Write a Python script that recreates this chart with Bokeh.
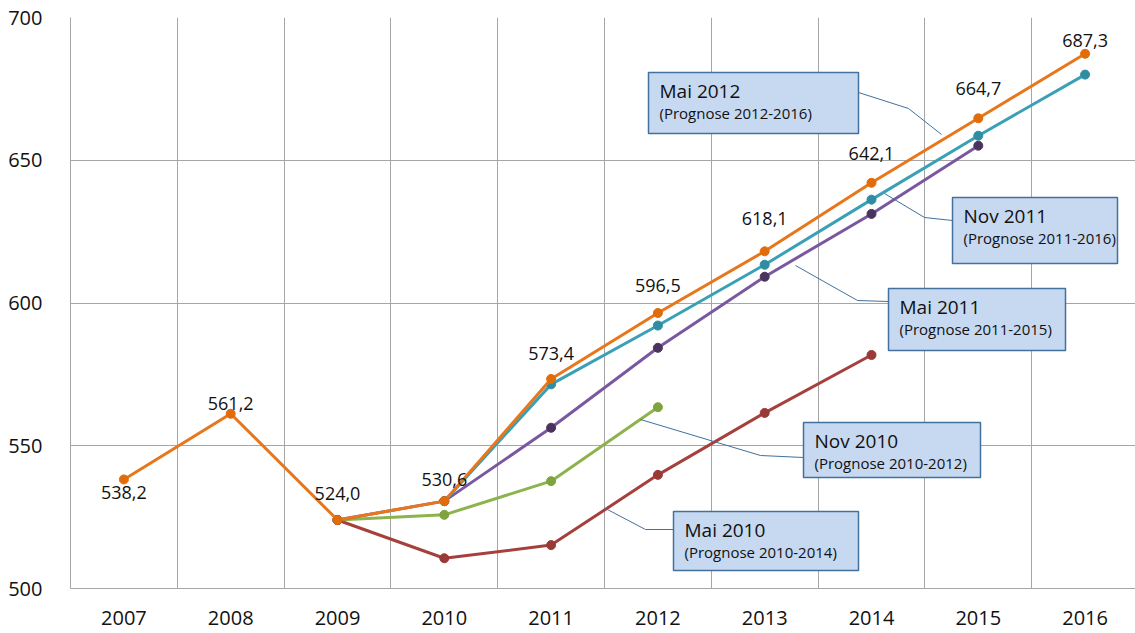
from bokeh.plotting import figure
from bokeh.models import ColumnDataSource, FixedTicker, Range1d, BoxAnnotation, Label
from bokeh.core.properties import value
from bokeh.embed import file_html
from bokeh.resources import INLINE

# ---------------- data ----------------
years = ["2007", "2008", "2009", "2010", "2011", "2012", "2013", "2014", "2015", "2016"]

mai2012_years = ["2007", "2008", "2009", "2010", "2011", "2012", "2013", "2014", "2015", "2016"]
mai2012 = [538.2, 561.2, 524.0, 530.6, 573.4, 596.5, 618.1, 642.1, 664.7, 687.3]
mai2012_labels = ["538,2", "561,2", "524,0", "530,6", "573,4", "596,5", "618,1", "642,1", "664,7", "687,3"]

nov2011_years = ["2010", "2011", "2012", "2013", "2014", "2015", "2016"]
nov2011 = [530.6, 571.5, 592.1, 613.4, 636.2, 658.6, 680.0]

mai2011_years = ["2009", "2010", "2011", "2012", "2013", "2014", "2015"]
mai2011 = [524.0, 530.6, 556.3, 584.3, 609.2, 631.2, 655.1]

nov2010_years = ["2009", "2010", "2011", "2012"]
nov2010 = [524.0, 525.8, 537.6, 563.5]

mai2010_years = ["2009", "2010", "2011", "2012", "2013", "2014"]
mai2010 = [524.0, 510.6, 515.2, 539.8, 561.5, 581.8]

callout_titles = ["Mai 2012", "Nov 2011", "Mai 2011", "Nov 2010", "Mai 2010"]
callout_subs = ["(Prognose 2012-2016)", "(Prognose 2011-2016)", "(Prognose 2011-2015)",
                "(Prognose 2010-2012)", "(Prognose 2010-2014)"]

y_ticks = [500, 550, 600, 650, 700]

# ---------------- layout helpers ----------------
FONT = "Open Sans"
W, H = 1135, 633
LEFT, TOP, BOTTOM = 70, 17, 45
frame_w = W - LEFT
frame_h = H - TOP - BOTTOM
cat_w = 106.8
x_end = frame_w / cat_w
pos = {y: i + 0.5 for i, y in enumerate(years)}


def px2x(px):
    return (px - 70) / cat_w


def px2y(py):
    return 700 - (py - 17) * 200.0 / frame_h


p = figure(width=W, height=H, output_backend="svg", toolbar_location=None,
           x_range=Range1d(0, x_end), y_range=Range1d(500, 700),
           min_border_left=LEFT, min_border_top=TOP, min_border_bottom=BOTTOM,
           min_border_right=0)
p.outline_line_color = None
p.background_fill_color = "white"
p.border_fill_color = "white"

# axes
p.xaxis.ticker = FixedTicker(ticks=[pos[y] for y in years])
p.xaxis.major_label_overrides = {pos[y]: y for y in years}
p.yaxis.ticker = FixedTicker(ticks=y_ticks)
for ax in (p.xaxis[0], p.yaxis[0]):
    ax.major_tick_line_color = None
    ax.minor_tick_line_color = None
    ax.axis_line_color = "#a6a6a6"
    ax.axis_line_width = 1
    ax.major_label_text_font = FONT
    ax.major_label_text_font_size = "20px"
    ax.major_label_text_color = "#111111"
p.xaxis.major_label_standoff = 16
p.yaxis.major_label_standoff = 22

p.xgrid.ticker = FixedTicker(ticks=list(range(1, 10)))
p.ygrid.ticker = FixedTicker(ticks=y_ticks)
p.xgrid.grid_line_color = "#a6a6a6"
p.ygrid.grid_line_color = "#a6a6a6"
p.xgrid.grid_line_width = 1
p.ygrid.grid_line_width = 1

# ---------------- series ----------------
series = [
    (mai2010_years, mai2010, "#a5403d", "#993a37"),
    (nov2010_years, nov2010, "#8db34c", "#7fa43f"),
    (mai2011_years, mai2011, "#7a58a0", "#4a345f"),
    (nov2011_years, nov2011, "#3aa0b6", "#2f8ca1"),
    (mai2012_years, mai2012, "#e8761a", "#e36c0a"),
]
for yrs, vals, lc, mc in series:
    src = ColumnDataSource(dict(x=[pos[y] for y in yrs], y=vals))
    p.line("x", "y", source=src, line_color=lc, line_width=3)
    p.scatter("x", "y", source=src, size=9, fill_color=mc, line_color=mc)

# data labels for the Mai 2012 series
label_dy = [13, -10, -26, -22, -25, -27, -33, -29, -30, -13]
for i, (yr, v, t) in enumerate(zip(mai2012_years, mai2012, mai2012_labels)):
    p.text(x=[pos[yr]], y=[v], text=[t], text_font=value(FONT), text_font_size="18px",
           text_color="#111111", text_align="center", text_baseline="middle",
           x_offset=0, y_offset=label_dy[i])

# ---------------- callouts ----------------
box_fill = "#c6d9f1"
box_line = "#41719c"
# (left, top, right, bottom) in px, leader polyline in px
callouts = [
    ((648, 72, 858, 133), [(858, 92), (908, 108), (941, 134)]),
    ((952, 197, 1117, 263), [(952, 220), (924, 217), (884, 193)]),
    ((888, 288, 1065, 350), [(888, 301), (857, 300), (795, 265)]),
    ((803, 422, 980, 477), [(803, 457), (760, 455), (640, 419)]),
    ((673, 511, 858, 570), [(673, 529), (645, 529), (605, 508)]),
]
for (box, leader), title, sub in zip(callouts, callout_titles, callout_subs):
    l, t, r, b = box
    p.line(x=[px2x(a) for a, _ in leader], y=[px2y(c) for _, c in leader],
           line_color=box_line, line_width=1)
    p.add_layout(BoxAnnotation(left=px2x(l), right=px2x(r), top=px2y(t), bottom=px2y(b),
                               fill_color=box_fill, fill_alpha=1.0,
                               line_color=box_line, line_alpha=1.0, line_width=1.5))
    p.add_layout(Label(x=px2x(l + 11), y=px2y(t + 18), text=title, text_font=FONT,
                       text_font_size="19px", text_color="#111111",
                       text_baseline="middle", text_align="left"))
    p.add_layout(Label(x=px2x(l + 11), y=px2y(t + 40), text=sub, text_font=FONT,
                       text_font_size="15px", text_color="#111111",
                       text_baseline="middle", text_align="left"))

open("out.html", "w").write(file_html(p, INLINE))
